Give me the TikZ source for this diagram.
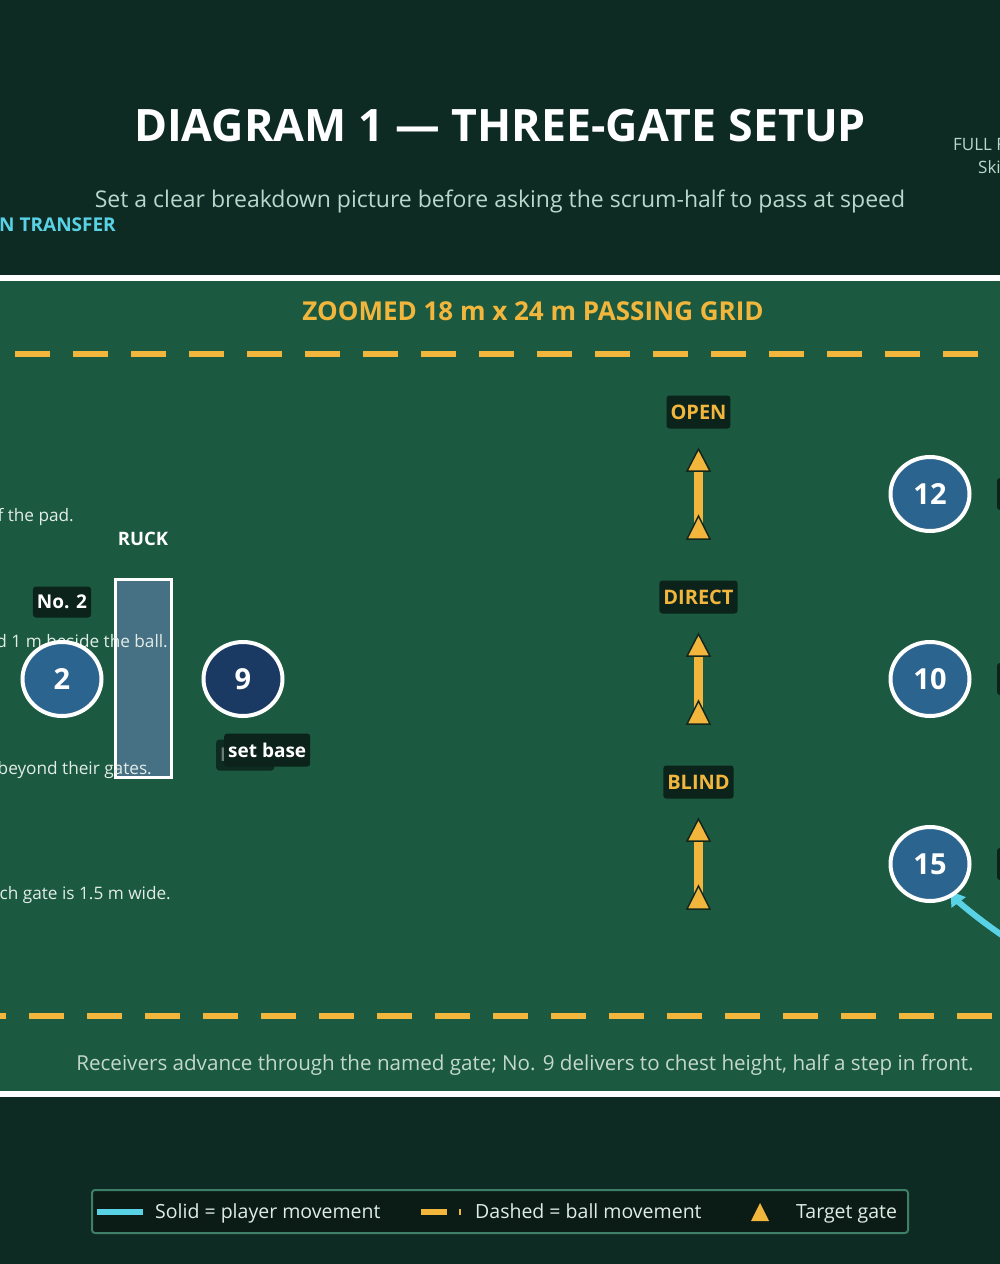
\documentclass[tikz,border=0pt]{standalone}
\usepackage{fontspec}
\setmainfont{Open Sans}
\usetikzlibrary{arrows.meta,shapes.geometric}
\definecolor{bgdark}{HTML}{0D2B23}
\definecolor{fieldc}{HTML}{1B5A40}
\definecolor{gold}{HTML}{F2B63D}
\definecolor{tagbg}{HTML}{0B231B}
\definecolor{cyanline}{HTML}{5AD2E6}
\definecolor{pblue}{HTML}{2C6490}
\definecolor{pdark}{HTML}{1A3A63}
\definecolor{ruckc}{HTML}{467083}
\definecolor{subc}{HTML}{B9D8CC}
\definecolor{capc}{HTML}{C4D8CE}
\definecolor{legbg}{HTML}{0B1C16}
\definecolor{legedge}{HTML}{3F7F68}
\definecolor{notec}{HTML}{E2ECE7}
\definecolor{tridark}{HTML}{13271D}
\newcommand{\myfs}[1]{\fontsize{#1}{#1}\selectfont}
\tikzset{
  player/.style={ellipse, draw=white, line width=4pt, fill=pblue, minimum width=79pt, minimum height=74pt, inner sep=0pt, text=white, font=\bfseries\myfs{29}},
  gatetag/.style={fill=tagbg, rounded corners=3pt, inner xsep=4pt, inner ysep=0pt, minimum height=33pt, text=gold, font=\bfseries\myfs{20}},
  whitetag/.style={fill=tagbg, rounded corners=3pt, inner xsep=4pt, inner ysep=0pt, minimum height=31pt, text=white, font=\bfseries\myfs{19}},
  note/.style={text=notec, font=\myfs{17.2}, inner sep=0pt, anchor=base east},
  gatetri/.style={fill=gold, draw=tridark, line width=1.5pt},
  dashline/.style={gold, line width=5.5pt, dash pattern=on 35pt off 23pt},
  legtext/.style={text=notec, font=\myfs{19.5}, inner sep=0pt, anchor=base west},
}
\begin{document}
\begin{tikzpicture}[x=1pt,y=-1pt]
\useasboundingbox (0,0) rectangle (1000,1264);
\clip (0,0) rectangle (1000,1264);
\fill[bgdark] (0,0) rectangle (1000,1264);
% header
\node[font=\bfseries\myfs{44.7}, text=white, inner sep=0pt, anchor=base] (title) at (500,141) {DIAGRAM 1 — THREE-GATE SETUP};
\node[font=\myfs{23}, text=subc, inner sep=0pt, anchor=base] (subtitle) at (500,207) {Set a clear breakdown picture before asking the scrum-half to pass at speed};
\node[font=\bfseries\myfs{19}, text=cyanline, inner sep=0pt, anchor=base east] (transfer) at (116,231) {N TRANSFER};
\node[font=\myfs{17}, text=subc, inner sep=0pt, anchor=base west] (fullf) at (953,150) {FULL F};
\node[font=\myfs{17}, text=subc, inner sep=0pt, anchor=base west] (ski) at (978,173) {Ski};
% field
\fill[fieldc] (-10,278) rectangle (1010,1094);
\draw[white, line width=6pt] (-10,278) -- (1010,278);
\draw[white, line width=6pt] (-10,1094) -- (1010,1094);
\node[font=\bfseries\myfs{26}, text=gold, inner sep=0pt, anchor=base] (gridtitle) at (533,320) {ZOOMED 18 m x 24 m PASSING GRID};
\draw[dashline] (15,354) -- (1010,354);
\draw[dashline] (-29,1016) -- (1010,1016);
\node[font=\myfs{20.6}, text=capc, inner sep=0pt, anchor=base] (caption) at (525,1070) {Receivers advance through the named gate; No. 9 delivers to chest height, half a step in front.};
% ruck
\draw[fill=ruckc, draw=white, line width=3pt] (115.5,579.5) rectangle (171,777) node[midway] (ruck) {};
\node[text=white, font=\bfseries\myfs{18.5}, inner sep=0pt, anchor=base] (rucklbl) at (143,545) {RUCK};
% notes (clipped on the left)
\node[note] (n1) at (74,521) {f the pad.};
\node[note] (n2) at (168,647) {d 1 m beside the ball.};
\node[note] (n3) at (152,774) {beyond their gates.};
\node[note] (n4) at (171,899) {ch gate is 1.5 m wide.};
% gates
\foreach \c/\n/\t in {494/open/OPEN,679/direct/DIRECT,864/blind/BLIND}{
  \node[gatetag] (\n) at (698.5,\c-82) {\t};
  \fill[gold] (694,\c-24) rectangle (703,\c+40);
  \draw[gatetri] (698.5,\c-45) -- (710,\c-23) -- (687,\c-23) -- cycle;
  \draw[gatetri] (698.5,\c+22) -- (710,\c+45) -- (687,\c+45) -- cycle;
}
% players
\node[player] (p2) at (62,679) {2};
\node[player, fill=pdark] (p9) at (243,679) {9};
\node[player] (p12) at (930,494) {12};
\node[player] (p10) at (930,679) {10};
% player tags
\node[whitetag] (t2) at (62,602) {No. 2};
\node[whitetag, fill=tagbg!85!fieldc, text=white!40!tagbg, anchor=west, minimum width=55pt] (t9) at (216,755) {No. 9};
\node[whitetag, anchor=west, minimum height=33pt] (t9b) at (224,750) {set base};
% arrow to 15 (drawn under the player disc)
\coordinate (a15) at (1015,944);
\coordinate (c15) at (930,864);
\draw[cyanline, line width=6pt, -{Triangle[length=14pt,width=17pt]}, shorten >=34pt] (a15) to[bend left=10] (c15);
\node[player] (p15) at (c15) {15};
\foreach \p in {12,10,15}{
  \fill[tagbg, rounded corners=3pt] ([yshift=-16pt]p\p.center) ++(67pt,0) rectangle ++(60pt,32pt);
}
% legend
\draw[fill=legbg, draw=legedge, line width=2pt, rounded corners=3pt] (92,1190) rectangle (908,1233);
\draw[cyanline, line width=6pt] (97,1212) -- (143,1212);
\node[legtext] (l1) at (155,1218.5) {Solid = player movement};
\draw[gold, line width=6pt, dash pattern=on 26pt off 12pt] (421,1212) -- (460.5,1212);
\node[legtext] (l2) at (475,1218.5) {Dashed = ball movement};
\fill[gold] (760,1203) -- (769,1221) -- (751,1221) -- cycle;
\node[legtext] (l3) at (796,1218.5) {Target gate};
\end{tikzpicture}
\end{document}
